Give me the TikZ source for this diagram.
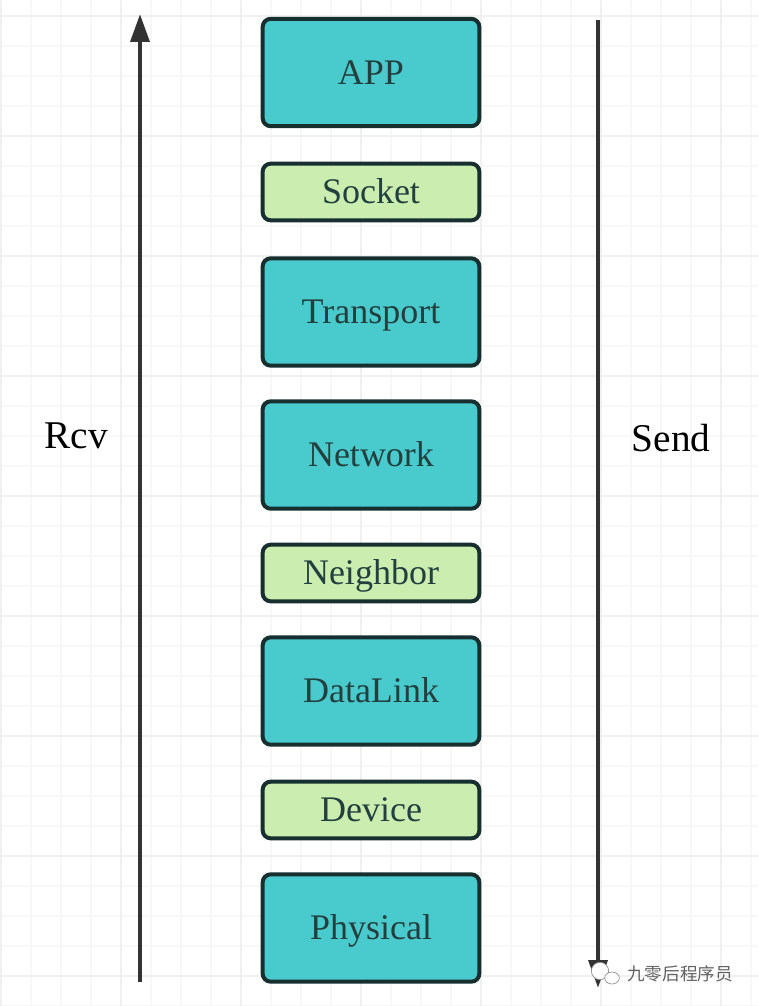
\documentclass[tikz,border=0pt]{standalone}
\usepackage{fontspec}
\setmainfont{Liberation Serif}
\newfontfamily\cjk{Noto Sans CJK SC}
\usetikzlibrary{arrows.meta,shapes.geometric}
\definecolor{tealfill}{HTML}{49CACD}
\definecolor{greenfill}{HTML}{CCEDB0}
\definecolor{boxline}{HTML}{17302F}
\definecolor{boxtext}{HTML}{23403F}
\definecolor{arrowline}{HTML}{333333}
\tikzset{
  layer/.style={draw=boxline,
    line width=3pt,
    rounded corners=6pt,
    text=boxtext,
    font=\fontsize{27}{30}\selectfont,
    text height=17.5pt,
    text depth=0pt,
    minimum width=162.5pt},
  biglayer/.style={layer,
    fill=tealfill,
    minimum height=80.5pt},
  smalllayer/.style={layer,
    fill=greenfill,
    minimum height=42.5pt},
  flow/.style={draw=arrowline,
    line width=3.4pt,
    -{Triangle[width=14pt,length=21pt]}},
  side/.style={font=\fontsize{29.5}{32}\selectfont}
}
\begin{document}
\begin{tikzpicture}[x=0.75pt,y=-0.75pt]
\useasboundingbox (0,0) rectangle (758,1006);
\fill [white] (0,0) rectangle (758,1006);

% Grid
\foreach \gx in {1,31,...,751}
  \draw [black!3,line width=0.9pt] (\gx,0) -- (\gx,1006);
\foreach \gy in {16,46,...,1006}
  \draw [black!3,line width=0.9pt] (0,\gy) -- (758,\gy);
\foreach \gx in {1,121,...,721}
  \draw [black!6,line width=1.2pt] (\gx,0) -- (\gx,1006);
\foreach \gy in {16,136,...,976}
  \draw [black!6,line width=1.2pt] (0,\gy) -- (758,\gy);

% Layers
\node [biglayer] (app) at (371,72.5) {APP};
\node [smalllayer] (socket) at (371,192) {Socket};
\node [biglayer] (transport) at (371,312) {Transport};
\node [biglayer] (network) at (371,455) {Network};
\node [smalllayer] (neighbor) at (371,573) {Neighbor};
\node [biglayer] (datalink) at (371,691) {DataLink};
\node [smalllayer] (device) at (371,810) {Device};
\node [biglayer] (physical) at (371,928) {Physical};

% Direction arrows
\coordinate (rcvstart) at (140,982);
\coordinate (rcvend) at (140,14);
\coordinate (sendstart) at (598,20);
\coordinate (sendend) at (598,988);
\draw [flow] (rcvstart) -- (rcvend);
\draw [flow] (sendstart) -- (sendend);

% Side labels
\node [side] (rcv) at (76,436) {Rcv};
\node [side] (send) at (671,438) {Send};

% Watermark
\node [draw=black!45,
    fill=white,
    line width=0.5pt,
    ellipse,
    inner sep=0pt,
    minimum width=13pt,
    minimum height=13pt] (bubbleA) at (600,971) {};
\node [draw=black!45,
    fill=white,
    line width=0.5pt,
    ellipse,
    inner sep=0pt,
    minimum width=11pt,
    minimum height=9pt] (bubbleB) at (612,978) {};
\node [text=black!62,
    inner sep=0pt,
    font=\cjk\fontsize{13.2}{15}\selectfont] (mark) at (680,974) {九零后程序员};
\end{tikzpicture}
\end{document}
